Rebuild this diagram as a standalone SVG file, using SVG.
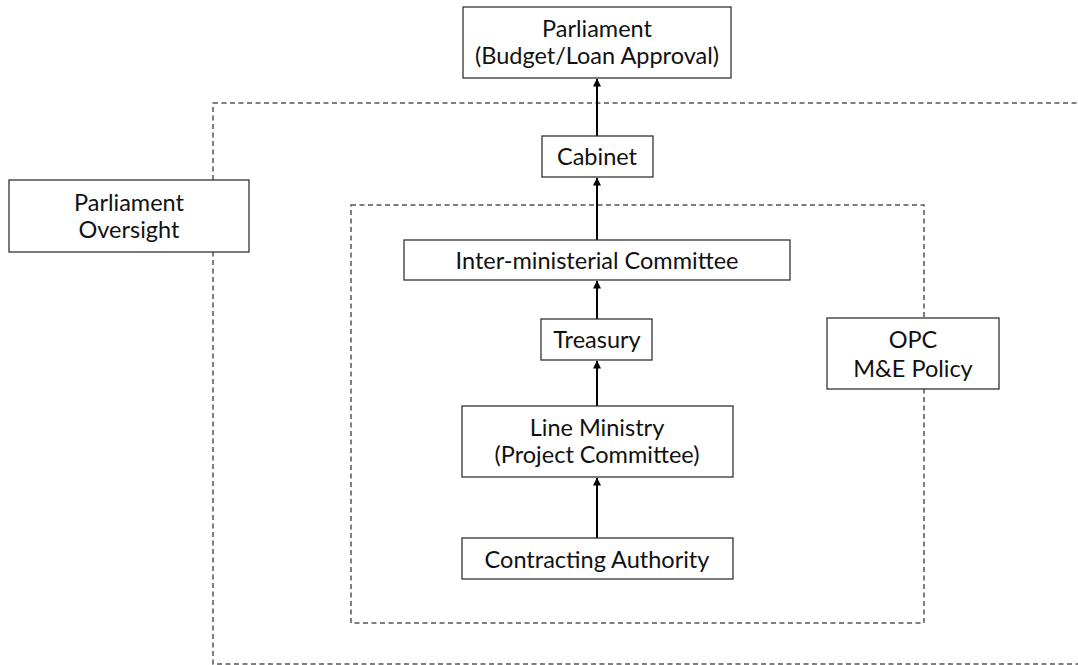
<svg xmlns="http://www.w3.org/2000/svg" width="1078" height="665" viewBox="0 0 1078 665">
<defs>
<style>
.frame{fill:none;stroke:#555;stroke-width:1.5;stroke-dasharray:5 3.5}
.box{fill:#fff;stroke:#333;stroke-width:1.3}
.lbl{font-family:Lato,"Open Sans","Liberation Sans",sans-serif;font-size:23.5px;fill:#111;text-anchor:middle}
.conn{stroke:#000;stroke-width:2;fill:none;marker-end:url(#ah)}
</style>
<marker id="ah" viewBox="0 0 8 8" refX="7.5" refY="4" markerWidth="4" markerHeight="4" orient="auto" markerUnits="strokeWidth">
<path d="M0,0 L8,4 L0,8 Z" fill="#000"/>
</marker>
</defs>
<rect width="1078" height="665" fill="#fff"/>
<g id="frames">
<rect class="frame" x="213" y="103" width="880" height="561"/>
<rect class="frame" x="351" y="205" width="573" height="418"/>
</g>
<g id="connectors">
<line class="conn" x1="597" y1="136" x2="597" y2="79"/>
<line class="conn" x1="597" y1="240" x2="597" y2="178"/>
<line class="conn" x1="597" y1="319" x2="597" y2="281"/>
<line class="conn" x1="597" y1="406" x2="597" y2="361"/>
<line class="conn" x1="597" y1="538" x2="597" y2="478"/>
</g>
<g id="parliament">
<rect class="box" x="463" y="7" width="268" height="71"/>
<text class="lbl" x="597" y="37">Parliament</text>
<text class="lbl" x="597" y="64">(Budget/Loan Approval)</text>
</g>
<g id="cabinet">
<rect class="box" x="542" y="136" width="111" height="41"/>
<text class="lbl" x="597" y="165">Cabinet</text>
</g>
<g id="parliament-oversight">
<rect class="box" x="9" y="180" width="240" height="72"/>
<text class="lbl" x="129" y="211">Parliament</text>
<text class="lbl" x="129" y="238">Oversight</text>
</g>
<g id="inter-ministerial">
<rect class="box" x="404" y="240" width="386" height="40"/>
<text class="lbl" x="597" y="269">Inter-ministerial Committee</text>
</g>
<g id="treasury">
<rect class="box" x="541" y="319" width="111" height="41"/>
<text class="lbl" x="597" y="348">Treasury</text>
</g>
<g id="opc">
<rect class="box" x="827" y="318" width="172" height="71"/>
<text class="lbl" x="913" y="348">OPC</text>
<text class="lbl" x="913" y="377">M&amp;E Policy</text>
</g>
<g id="line-ministry">
<rect class="box" x="462" y="406" width="271" height="71"/>
<text class="lbl" x="597" y="436">Line Ministry</text>
<text class="lbl" x="597" y="463">(Project Committee)</text>
</g>
<g id="contracting-authority">
<rect class="box" x="462" y="538" width="271" height="41"/>
<text class="lbl" x="597" y="568">Contracting Authority</text>
</g>
</svg>
